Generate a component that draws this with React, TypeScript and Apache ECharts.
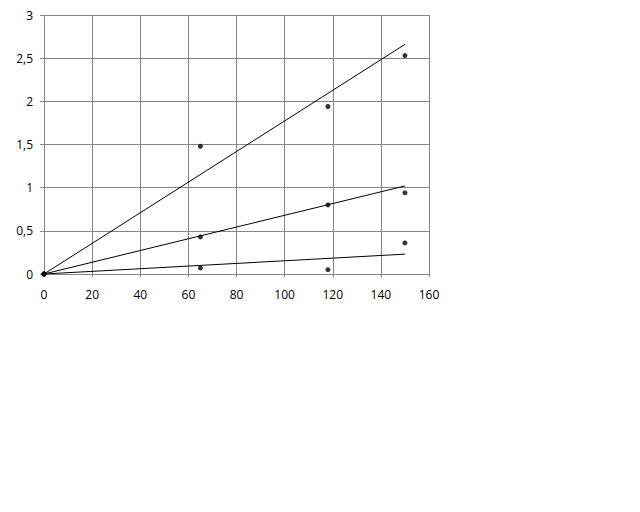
import React, { useEffect, useRef } from "react";
import * as echarts from "echarts";

// Measured points for the three series (x, y)
const xValues = [0, 65, 118, 150];
const seriesHigh = [0, 1.48, 1.94, 2.53];
const seriesMid = [0, 0.43, 0.8, 0.94];
const seriesLow = [0, 0.07, 0.05, 0.36];

// Linear trendlines through the origin: [startX, startY, endX, endY]
const trendHigh = [0, 0, 150, 2.66];
const trendMid = [0, 0, 150, 1.02];
const trendLow = [0, 0, 150, 0.23];

const xTicks = { min: 0, max: 160, interval: 20 };
const yTicks = { min: 0, max: 3, interval: 0.5 };

const gridColor = "#868686";
const font = "Open Sans";

function pairs(xs: number[], ys: number[]) {
  return xs.map((x, i) => [x, ys[i]]);
}

function trend(t: number[]) {
  return [
    [t[0], t[1]],
    [t[2], t[3]],
  ];
}

export default function App() {
  const ref = useRef<HTMLDivElement>(null);

  useEffect(() => {
    if (!ref.current) return;
    const chart = echarts.init(ref.current, null, { renderer: "svg" });
    const scatterStyle = {
      type: "scatter" as const,
      symbol: "circle",
      symbolSize: 5,
      itemStyle: { color: "#000" },
      z: 3,
    };
    const lineStyle = {
      type: "line" as const,
      showSymbol: false,
      symbol: "none",
      lineStyle: { color: "#000", width: 1 },
      z: 2,
    };
    chart.setOption({
      animation: false,
      backgroundColor: "#fff",
      grid: { left: 44, right: 211, top: 15, bottom: 238, containLabel: false },
      xAxis: {
        type: "value",
        min: xTicks.min,
        max: xTicks.max,
        interval: xTicks.interval,
        axisLine: { show: true, lineStyle: { color: gridColor, width: 1 } },
        axisTick: { show: true, length: 3, lineStyle: { color: gridColor } },
        axisLabel: { color: "#000", fontFamily: font, fontSize: 12, margin: 14 },
        splitLine: { show: true, lineStyle: { color: gridColor, width: 1 } },
      },
      yAxis: {
        type: "value",
        min: yTicks.min,
        max: yTicks.max,
        interval: yTicks.interval,
        axisLine: { show: true, lineStyle: { color: gridColor, width: 1 } },
        axisTick: { show: true, length: 4, lineStyle: { color: gridColor } },
        axisLabel: {
          color: "#000",
          fontFamily: font,
          fontSize: 12,
          margin: 11,
          formatter: (v: number) => String(v).replace(".", ","),
        },
        splitLine: { show: true, lineStyle: { color: gridColor, width: 1 } },
      },
      series: [
        { ...lineStyle, data: trend(trendHigh) },
        { ...lineStyle, data: trend(trendMid) },
        { ...lineStyle, data: trend(trendLow) },
        { ...scatterStyle, data: pairs(xValues, seriesHigh) },
        { ...scatterStyle, data: pairs(xValues, seriesMid) },
        { ...scatterStyle, data: pairs(xValues, seriesLow) },
      ],
    });
    return () => chart.dispose();
  }, []);

  return <div ref={ref} style={{ width: 640, height: 512, position: "absolute", left: 0, top: 0 }} />;
}
